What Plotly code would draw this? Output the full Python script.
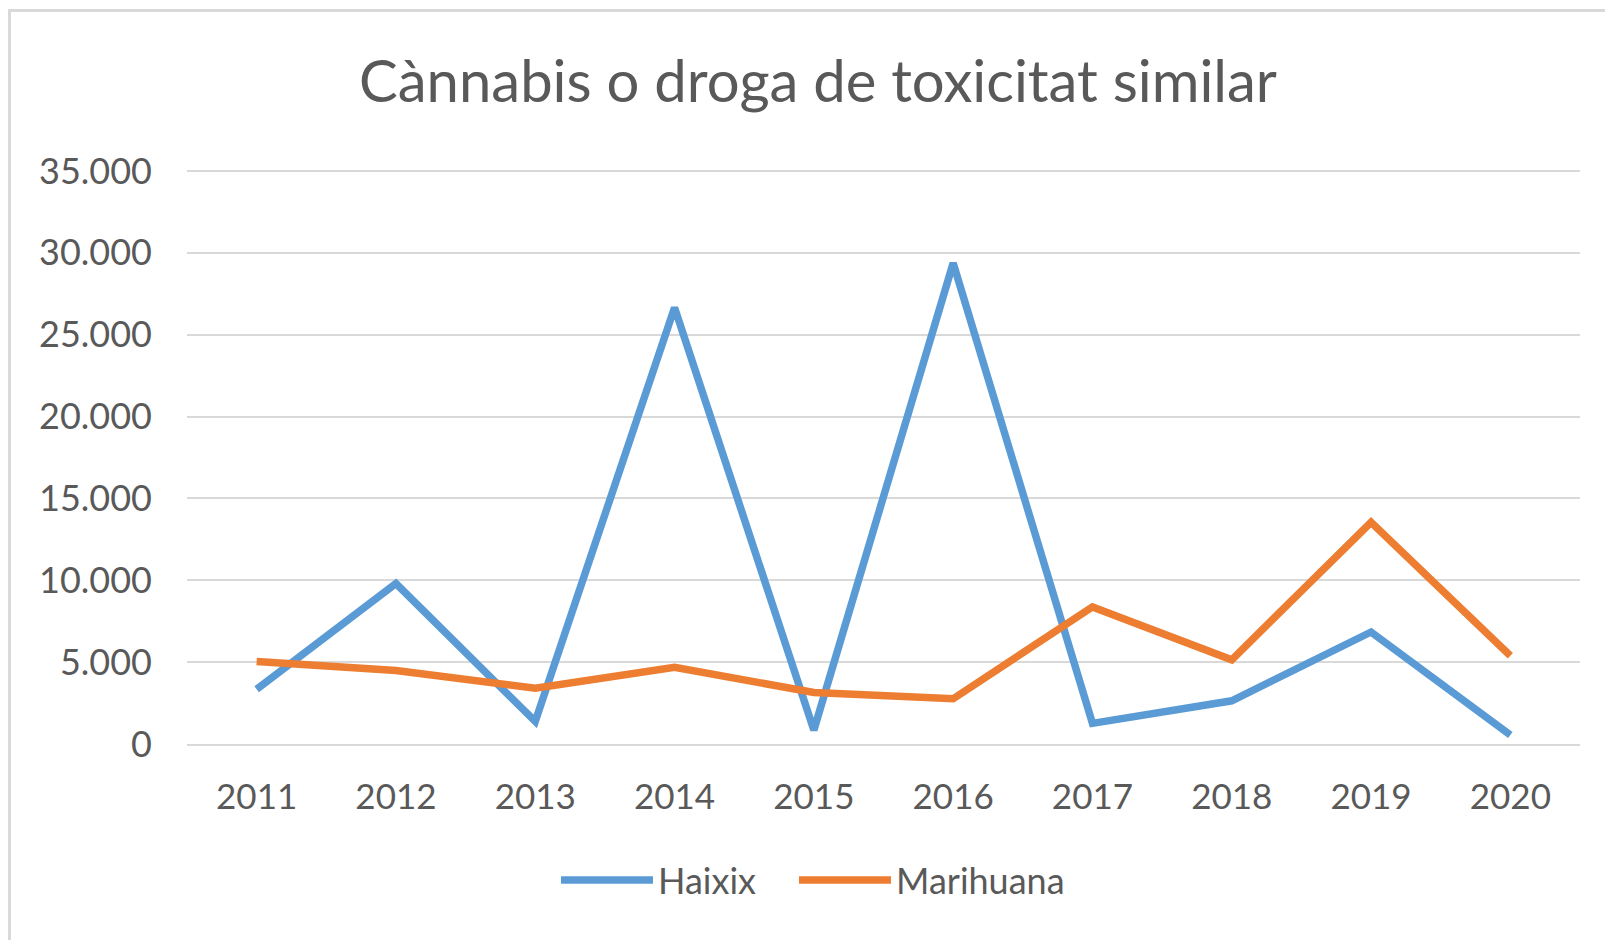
import plotly.graph_objects as go

years = ["2011", "2012", "2013", "2014", "2015", "2016", "2017", "2018", "2019", "2020"]
haixix = [3350, 9800, 1380, 26650, 850, 29370, 1260, 2640, 6840, 550]
marihuana = [5040, 4490, 3410, 4680, 3150, 2760, 8370, 5140, 13540, 5390]
y_ticks = [0, 5000, 10000, 15000, 20000, 25000, 30000, 35000]

TXT = "#595959"
GRID = "#d9d9d9"
FONT = "Lato, Carlito, Calibri, sans-serif"

fig = go.Figure()
fig.add_trace(go.Scatter(x=years, y=haixix, name="Haixix", mode="lines",
                         line=dict(color="#5B9BD5", width=7.5), legend="legend"))
fig.add_trace(go.Scatter(x=years, y=marihuana, name="Marihuana", mode="lines",
                         line=dict(color="#ED7D31", width=7.5), legend="legend2"))

OFF = 8  # page body margin offset
W, H = 1613, 940
YMAX = 35300
left_px, right_px = 187 - OFF, 1580 - OFF
top35_px, zero_px = 171 - OFF, 744 - OFF
L, R = left_px, W - right_px
B = H - zero_px
ph = (zero_px - top35_px) * YMAX / 35000
T = H - B - ph
pw = W - L - R

leg_y = -(880 - OFF - (T + ph)) / ph
leg_common = dict(orientation="h", xanchor="left", y=leg_y, yanchor="middle",
                  font=dict(size=36, color=TXT), itemwidth=92,
                  bgcolor="rgba(0,0,0,0)")

fig.update_layout(
    width=W, height=H,
    margin=dict(l=L, r=R, t=T, b=B),
    paper_bgcolor="white", plot_bgcolor="white",
    separators=",.",
    font=dict(family=FONT, color=TXT, size=35),
    title=dict(text="Cànnabis o droga de toxicitat similar", xref="paper", x=(810 - L) / pw,
               xanchor="center", y=1 - (82 - OFF) / H, yanchor="middle",
               font=dict(family=FONT, size=58, color=TXT)),
    xaxis=dict(type="category", range=[-0.5, 9.5], showgrid=False, showline=True,
               linecolor=GRID, linewidth=2,
               ticks="", ticklabelstandoff=21, tickfont=dict(size=35, color=TXT)),
    yaxis=dict(range=[0, YMAX], tickvals=y_ticks, tickformat=",d", showgrid=True,
               gridcolor=GRID, gridwidth=2, zeroline=False, showline=False,
               ticks="", ticklabelstandoff=34, tickfont=dict(size=36, color=TXT)),
    legend=dict(x=(560 - 12 - L) / pw, **leg_common),
    legend2=dict(x=(798 - 12 - L) / pw, **leg_common),
    showlegend=True,
)

# outer chart border
fig.add_shape(type="rect", xref="paper", yref="paper",
              x0=(1.5 - L) / pw, x1=(W + 20 - L) / pw,
              y0=-(H + 20 - T - ph) / ph, y1=1 + (T - 2.5) / ph,
              line=dict(color=GRID, width=3), fillcolor="rgba(0,0,0,0)", layer="below")

fig.write_html("out.html")
